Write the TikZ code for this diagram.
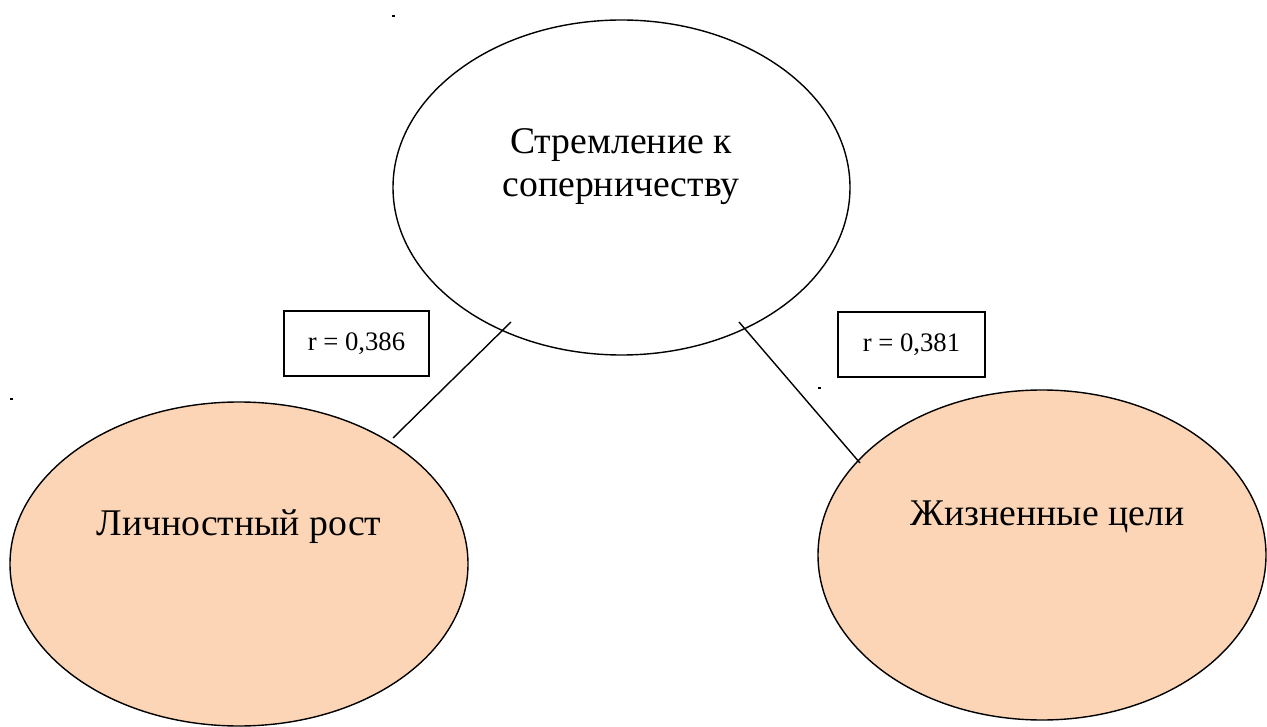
\documentclass[tikz,border=0pt]{standalone}
\usepackage{fontspec}
\setmainfont{Liberation Serif}
\usetikzlibrary{shapes.geometric}
\definecolor{peach}{RGB}{251,213,181}
\tikzset{
  oval/.style={ellipse, draw=black, line width=1.4pt, inner sep=0pt},
  bigtext/.style={font=\fontsize{37.7}{43}\selectfont, align=center, inner sep=0pt, anchor=base},
  rbox/.style={draw=black, line width=1.4pt, minimum height=65pt, inner sep=0pt, font=\fontsize{26.7}{30}\selectfont},
  link/.style={line width=1.4pt},
  speck/.style={fill=black, minimum width=3pt, minimum height=2pt, inner sep=0pt}
}
\begin{document}
\begin{tikzpicture}[x=1pt,y=-1pt]
\useasboundingbox (0,0) rectangle (1267,727);
\fill[white] (0,0) rectangle (1267,727);
% ellipses
\node[oval, fill=white, minimum width=457pt, minimum height=335pt] (top) at (621.5,187.5) {};
\node[oval, fill=peach, minimum width=458pt, minimum height=324pt] (left) at (239,564) {};
\node[oval, fill=peach, minimum width=448pt, minimum height=330pt] (right) at (1042,555) {};
% texts
\node[bigtext] (toptext) at (621,197) {Стремление к\\соперничеству};
\node[bigtext] (lefttext) at (239,535) {Личностный рост};
\node[bigtext] (righttext) at (1047.5,525) {Жизненные цели};
% boxes
\node[rbox, minimum width=145pt] (rleft) at (356.5,343.5) {r = 0,386\hspace{12pt}};
\node[rbox, minimum width=147pt] (rright) at (911.5,344.5) {r = 0,381\hspace{12pt}};
% connectors
\coordinate (la) at (511,322);
\coordinate (lb) at (393,438);
\coordinate (ra) at (739,322);
\coordinate (rb) at (860,463);
\draw[link] (la) -- (lb);
\draw[link] (ra) -- (rb);
% specks
\node[speck] (s1) at (393,16) {};
\node[speck] (s2) at (11,399) {};
\node[speck] (s3) at (819,388) {};
\end{tikzpicture}
\end{document}
